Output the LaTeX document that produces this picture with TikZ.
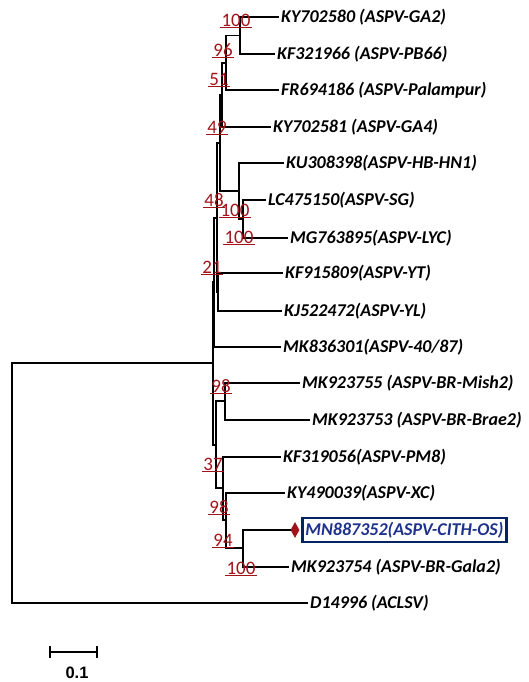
\documentclass[tikz,border=0pt]{standalone}
\usepackage{fontspec}
\setmainfont{Carlito}
\newfontfamily\arialf{Liberation Sans}
\usetikzlibrary{shapes.geometric}
\definecolor{bsred}{RGB}{160,20,25}
\definecolor{navy}{RGB}{5,35,100}
\definecolor{boxblue}{RGB}{30,50,140}
\begin{document}
\begin{tikzpicture}[x=1pt,y=-1pt,
  br/.style={line width=1.9pt, black, line cap=rect},
  leaf/.style={anchor=west, inner sep=3pt, font=\fontsize{18}{18}\selectfont\bfseries\itshape},
  bs/.style={text=bsred, inner xsep=1pt, inner ysep=1pt, font=\fontsize{19}{19}\selectfont,
    append after command={(\tikzlastnode.south west) edge[draw=bsred, line width=1.3pt] (\tikzlastnode.south east)}},
  mark15/.style={shape=diamond, fill=bsred, minimum width=9pt, minimum height=16pt, inner sep=0pt},
  hilite/.style={anchor=west, draw=navy, line width=2.8pt, text=boxblue, inner xsep=3pt, minimum height=24pt,
    font=\fontsize{18}{18}\selectfont\bfseries\itshape}
]
\useasboundingbox (0,0) rectangle (528,682);

% internal nodes
\coordinate (R0) at (12,483);
\coordinate (Xa) at (213,363);
\coordinate (U2) at (214,282);
\coordinate (G) at (217,218);
\coordinate (F) at (220,143);
\coordinate (C) at (222,95);
\coordinate (B) at (226,63);
\coordinate (A) at (240,35.5);
\coordinate (E) at (239,191);
\coordinate (D) at (243,219);
\coordinate (H) at (218,292);
\coordinate (T) at (216,445);
\coordinate (P) at (225,401);
\coordinate (S) at (223,488);
\coordinate (R) at (226,520);
\coordinate (Q) at (243,548);

% leaves
\node[leaf] (L1) at (278,17) {KY702580 (ASPV-GA2)};
\node[leaf] (L2) at (274,54) {KF321966 (ASPV-PB66)};
\node[leaf] (L3) at (278,90) {FR694186 (ASPV-Palampur)};
\node[leaf] (L4) at (270,127) {KY702581 (ASPV-GA4)};
\node[leaf] (L5) at (283,163) {KU308398(ASPV-HB-HN1)};
\node[leaf] (L6) at (265,200) {LC475150(ASPV-SG)};
\node[leaf] (L7) at (287,238) {MG763895(ASPV-LYC)};
\node[leaf] (L8) at (282,273) {KF915809(ASPV-YT)};
\node[leaf] (L9) at (281,311) {KJ522472(ASPV-YL)};
\node[leaf] (L10) at (280,347) {MK836301(ASPV-40/87)};
\node[leaf] (L11) at (299,383) {MK923755 (ASPV-BR-Mish2)};
\node[leaf] (L12) at (309,420) {MK923753 (ASPV-BR-Brae2)};
\node[leaf] (L13) at (280,457) {KF319056(ASPV-PM8)};
\node[leaf] (L14) at (284,493) {KY490039(ASPV-XC)};
\node[mark15] (L15) at (295,530) {};
\node[hilite] (L15b) at (301,530) {MN887352(ASPV-CITH-OS)};
\node[leaf] (L16) at (288,567) {MK923754 (ASPV-BR-Gala2)};
\node[leaf] (L17) at (307,603) {D14996 (ACLSV)};

% branches
\draw[br] (R0) |- (Xa);
\draw[br] (R0) |- (L17.west);
\draw[br] (Xa) |- (U2);
\draw[br] (Xa) |- (T);
\draw[br] (U2) |- (G);
\draw[br] (U2) |- (L10.west);
\draw[br] (G) |- (F);
\draw[br] (G) |- (H);
\draw[br] (F) |- (C);
\draw[br] (F) |- (E);
\draw[br] (C) |- (B);
\draw[br] (C) |- (L4.west);
\draw[br] (B) |- (A);
\draw[br] (B) |- (L3.west);
\draw[br] (A) |- (L1.west);
\draw[br] (A) |- (L2.west);
\draw[br] (E) |- (L5.west);
\draw[br] (E) |- (D);
\draw[br] (D) |- (L6.west);
\draw[br] (D) |- (L7.west);
\draw[br] (H) |- (L8.west);
\draw[br] (H) |- (L9.west);
\draw[br] (T) |- (P);
\draw[br] (T) |- (S);
\draw[br] (P) |- (L11.west);
\draw[br] (P) |- (L12.west);
\draw[br] (S) |- (L13.west);
\draw[br] (S) |- (R);
\draw[br] (R) |- (L14.west);
\draw[br] (R) |- (Q);
\draw[br] (Q) |- (L15.west);
\draw[br] (Q) |- (L16.west);

% bootstrap values
\node[bs] (b1) at (236,20) {100};
\node[bs] (b2) at (223,50) {96};
\node[bs] (b3) at (219,79) {51};
\node[bs] (b4) at (217,127) {49};
\node[bs] (b5) at (214,200) {48};
\node[bs] (b6) at (235,210) {100};
\node[bs] (b7) at (239,237) {100};
\node[bs] (b8) at (212,267) {21};
\node[bs] (b9) at (221,386) {98};
\node[bs] (b10) at (213,464) {37};
\node[bs] (b11) at (219,507) {98};
\node[bs] (b12) at (223,540) {94};
\node[bs] (b13) at (241,568) {100};

% scale bar
\coordinate (sb1) at (50,652);
\coordinate (sb2) at (97,652);
\draw[line width=1.5pt] (sb1) -- (sb2);
\draw[line width=1.5pt] ([yshift=-6]sb1) -- ([yshift=6]sb1);
\draw[line width=1.5pt] ([yshift=-6]sb2) -- ([yshift=6]sb2);
\node[font=\arialf\bfseries\fontsize{16.5}{16.5}\selectfont, inner sep=0pt] (sbl) at (77,673) {0.1};
\end{tikzpicture}
\end{document}
